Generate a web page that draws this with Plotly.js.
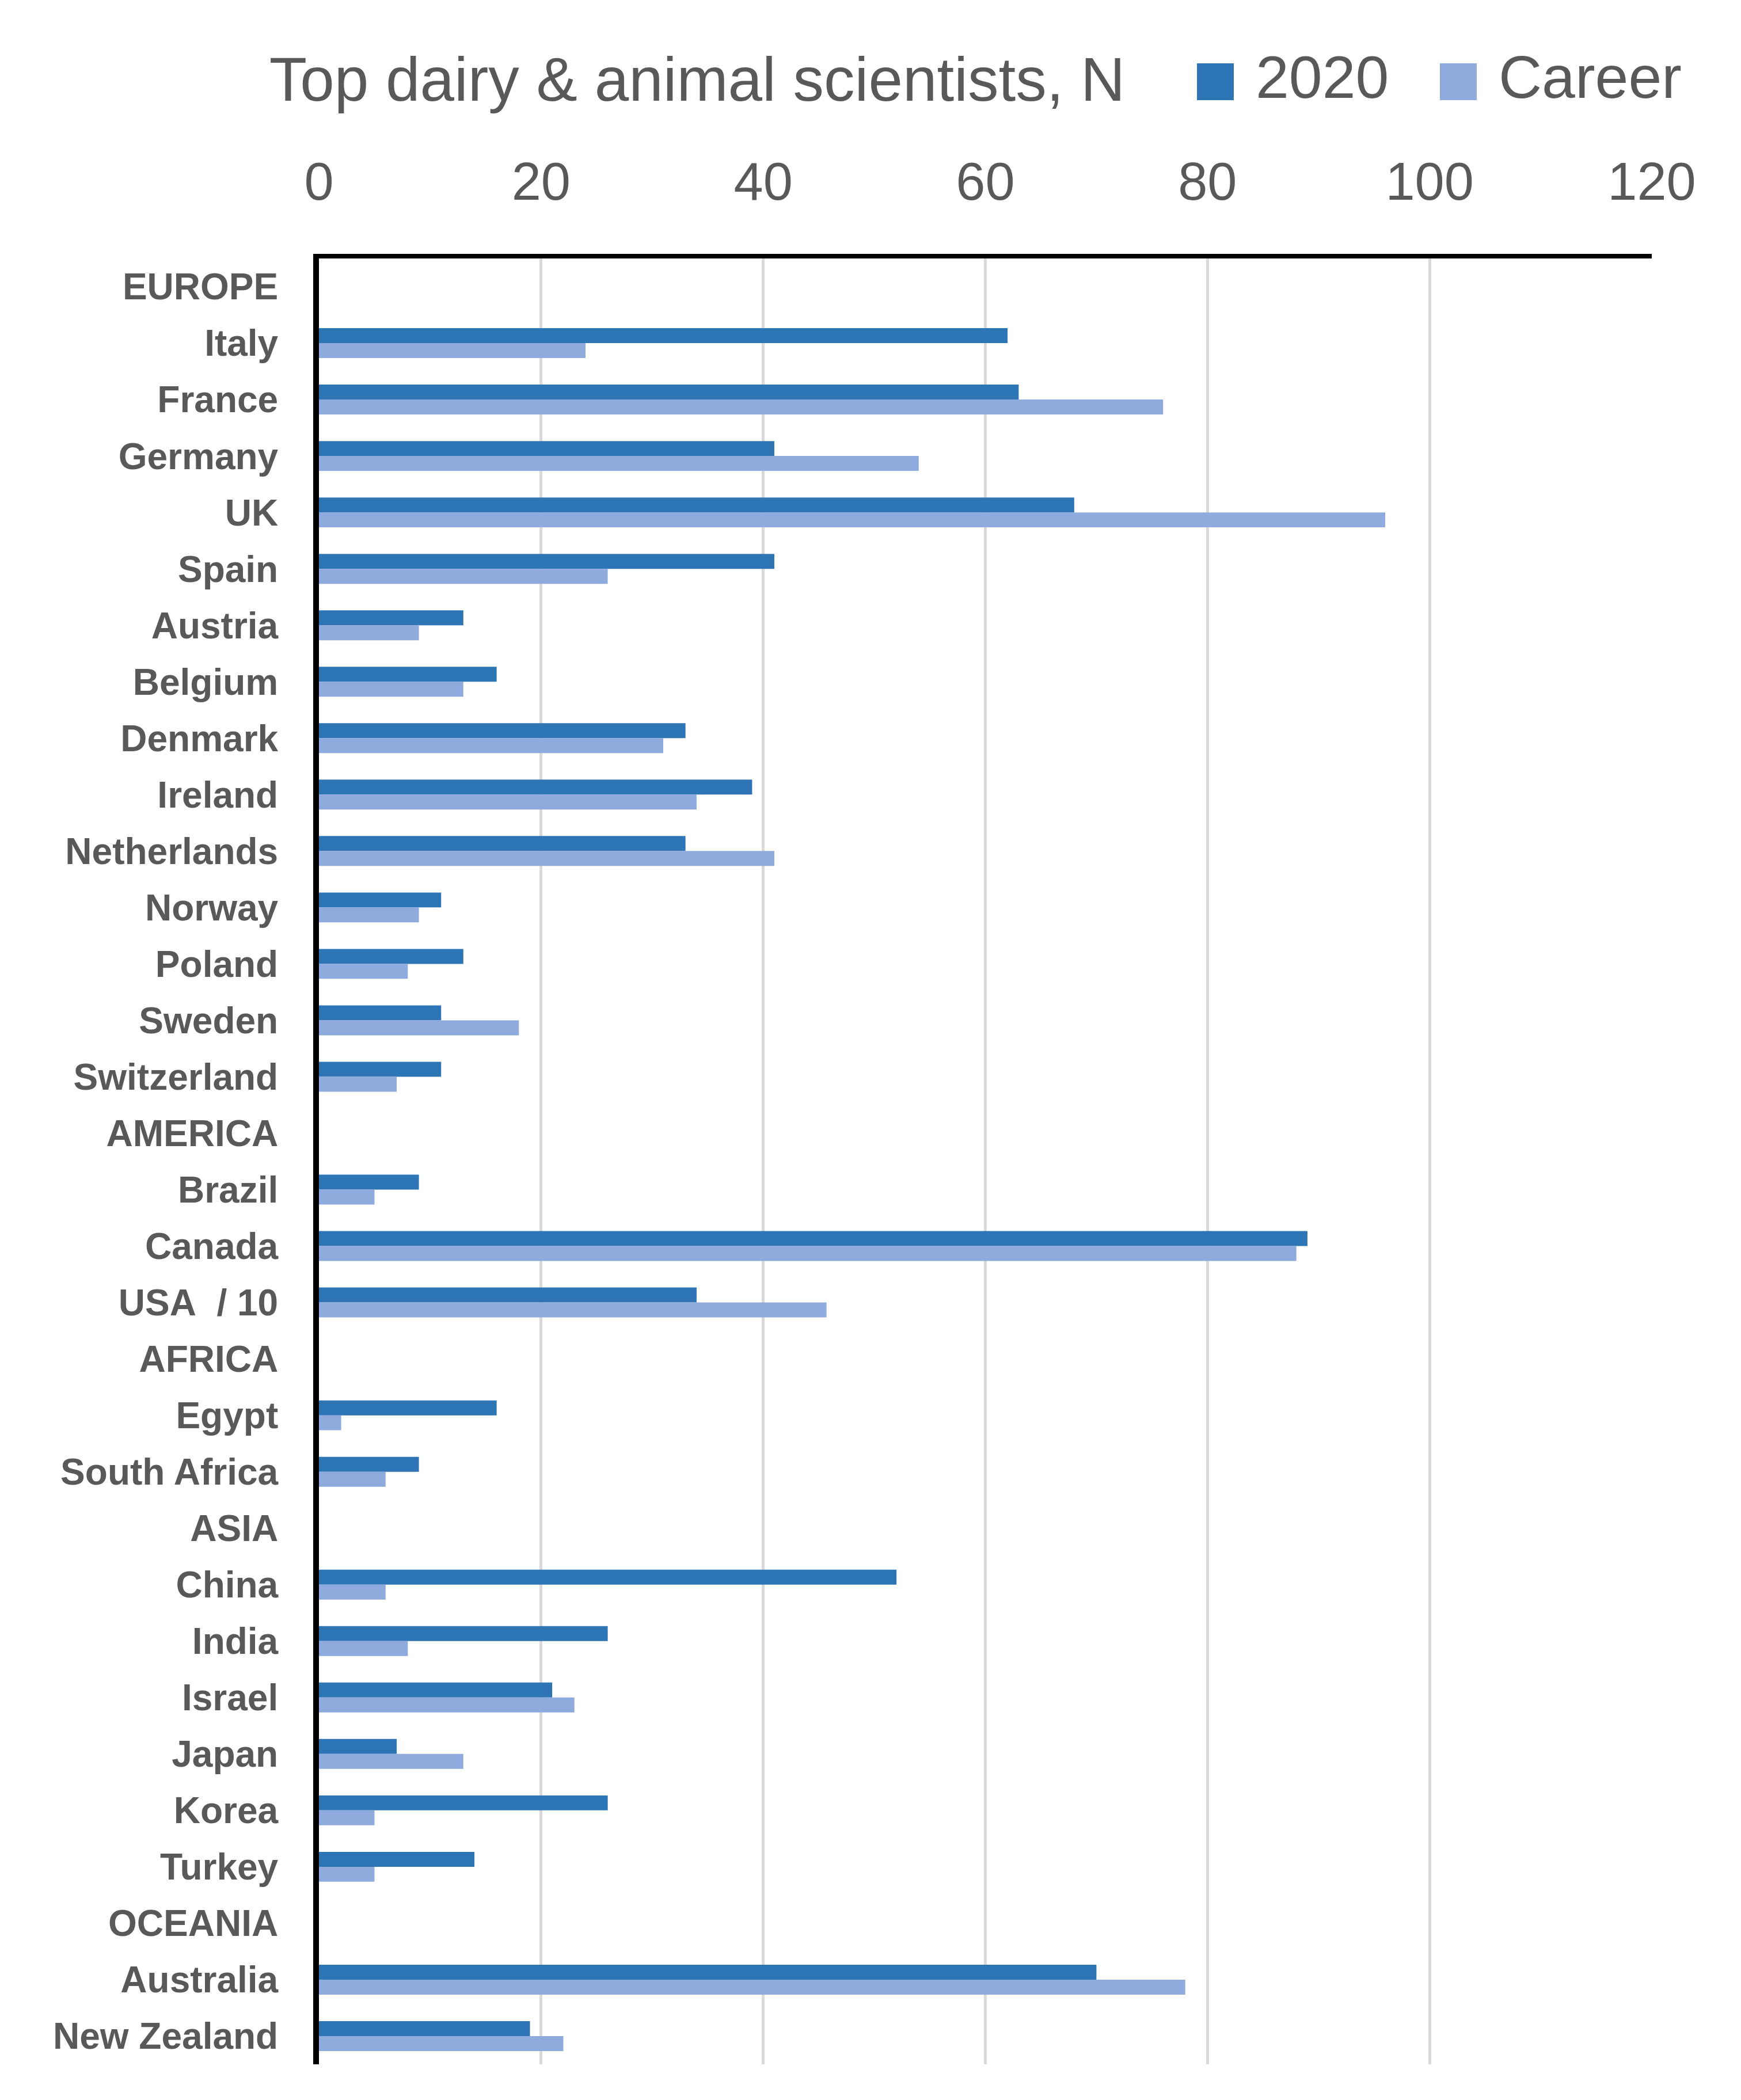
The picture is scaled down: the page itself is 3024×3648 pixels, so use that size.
<!DOCTYPE html>
<html>
<head>
<meta charset="utf-8">
<script src="https://cdn.plot.ly/plotly-3.0.1.min.js"></script>
<style>html,body{margin:0;padding:0;background:#fff;}#chart{width:3024px;height:3648px;}</style>
</head>
<body>
<div id="chart"></div>
<script>
const categories = ["EUROPE","Italy","France","Germany","UK","Spain","Austria","Belgium","Denmark","Ireland","Netherlands","Norway","Poland","Sweden","Switzerland","AMERICA","Brazil","Canada","USA\u00a0 / 10","AFRICA","Egypt","South Africa","ASIA","China","India","Israel","Japan","Korea","Turkey","OCEANIA","Australia","New Zealand"];
const values2020 = [null,62,63,41,68,41,13,16,33,39,33,11,13,11,11,null,9,89,34,null,16,9,null,52,26,21,7,26,14,null,70,19];
const valuesCareer = [null,24,76,54,96,26,9,13,31,34,41,9,8,18,7,null,5,88,45.7,null,2,6,null,6,8,23,13,5,5,null,78,22];
const seriesNames = ["2020","Career"];
const xTicks = [0,20,40,60,80,100,120];

const FONT = "'Liberation Sans', Arial, sans-serif";
const GRAY = "#595959";

const traces = [
  {type:"bar", orientation:"h", name:seriesNames[0], y:categories, x:values2020,
   marker:{color:"#2E75B6"}, hoverinfo:"x+y"},
  {type:"bar", orientation:"h", name:seriesNames[1], y:categories, x:valuesCareer,
   marker:{color:"#8FAADC"}, hoverinfo:"x+y"}
];

const layout = {
  width:3024, height:3648,
  paper_bgcolor:"#ffffff", plot_bgcolor:"#ffffff",
  margin:{l:554, r:155, t:449, b:62},
  barmode:"group", bargap:0.47, bargroupgap:0,
  font:{family:FONT, color:GRAY},
  showlegend:true,
  legend:{
    orientation:"h", xref:"container", yref:"container",
    x:0.154, xanchor:"left", y:0.9644, yanchor:"middle",
    title:{text:"Top dairy & animal scientists, N\u00a0\u00a0\u00a0\u00a0\u00a0", side:"left", font:{size:107, color:GRAY, family:FONT}},
    font:{size:104, color:GRAY, family:FONT},
    itemwidth:60, entrywidth:347, entrywidthmode:"pixels",
    traceorder:"normal", bgcolor:"rgba(0,0,0,0)"
  },
  xaxis:{
    side:"top", range:[0,120], tickvals:xTicks, ticktext:xTicks.map(String),
    showgrid:true, gridcolor:"#D9D9D9", gridwidth:5,
    zeroline:false, showline:true, linecolor:"#000000", linewidth:8,
    ticks:"", ticklabelstandoff:57,
    tickfont:{size:92, color:GRAY, family:FONT}, fixedrange:true
  },
  yaxis:{
    type:"category", autorange:false, range:[categories.length-0.5,-0.5],
    showgrid:false, zeroline:false, showline:true, linecolor:"#000000", linewidth:10,
    ticks:"", ticklabelstandoff:48,
    tickfont:{size:64, color:GRAY, family:FONT, weight:"bold"}, fixedrange:true
  }
};

Plotly.newPlot("chart", traces, layout, {displayModeBar:false, staticPlot:true}).then(function(){
  document.querySelectorAll("#chart .legendpoints path").forEach(function(p){
    p.setAttribute("transform","translate(0,13) scale(5.33)");
  });
  document.querySelectorAll("#chart .legendtitletext").forEach(function(t){
    var tr = t.getAttribute("transform") || "";
    t.setAttribute("transform","translate(0,-19) " + tr);
  });
});
</script>
</body>
</html>
